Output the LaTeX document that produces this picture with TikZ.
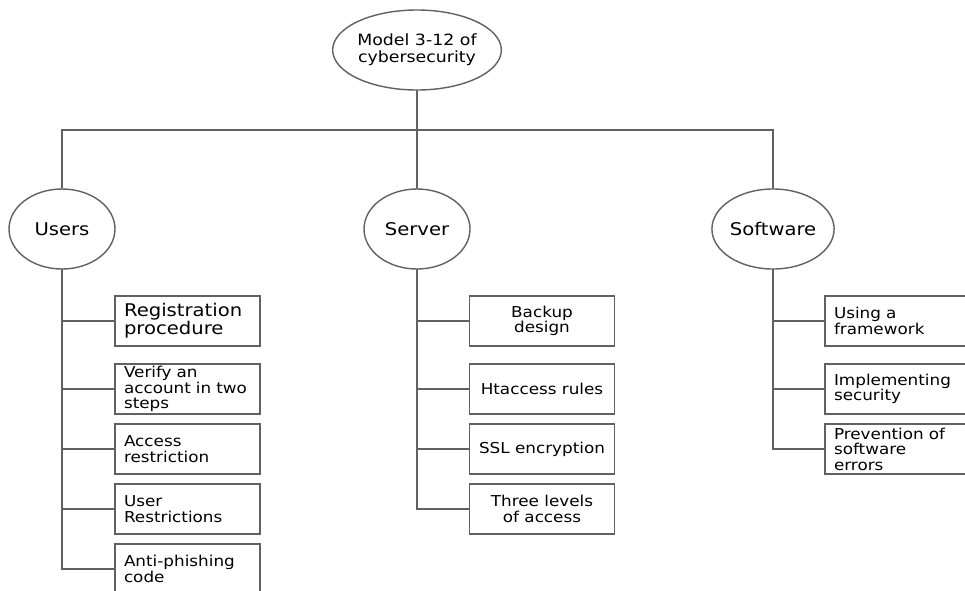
\documentclass[tikz,border=0pt]{standalone}
\usepackage{fontspec}
\setmainfont{DejaVu Sans}
\newfontfamily\widefont[FakeStretch=1.12]{DejaVu Sans}
\usepackage{tikz}
\usetikzlibrary{shapes.geometric}

\begin{document}
\begin{tikzpicture}
		[x=1pt,y=-1pt,line cap=round,
		%Styles
		link/.style={draw=black!62,line width=1.6pt},
		main node/.style={ellipse,draw=black!62,line width=1.4pt,fill=white,inner sep=0pt,minimum width=#1},
		head node/.style={main node=160pt,minimum height=80pt,font=\widefont\fontsize{15.5}{17}\selectfont,align=center},
		part node/.style={main node=106pt,minimum height=80pt,font=\widefont\fontsize{17.5}{19}\selectfont},
		box/.style={rectangle,draw=black!62,line width=1.4pt,fill=white,minimum width=145pt,minimum height=50pt,inner ysep=0pt,font=\widefont\fontsize{15}{15.5}\selectfont},
		item box/.style={box,inner xsep=9pt,text width=127pt,align=left},
		center box/.style={box,inner xsep=2pt,align=center},
		big text/.style={font=\widefont\fontsize{17.5}{18}\selectfont}
		]
		\useasboundingbox (0,0) rectangle (965,590);
		\clip (0,0) rectangle (965,590);
		\fill[white] (0,0) rectangle (965,590);
		
		%The graphic
		\node[head node] (model) at (417,50) {Model 3-12 of\\cybersecurity};
		\coordinate (bar) at (417,130);
		\node[part node] (users) at (62,229) {Users};
		\node[part node] (server) at (417,229) {Server};
		\node[part node] (software) at (773,229) {Software};
		
		\node[item box,big text] (u1) at (187.5,321) {Registration\\procedure};
		\node[item box] (u2) at (187.5,389) {Verify an\\account in two\\steps};
		\node[item box] (u3) at (187.5,449) {Access\\restriction};
		\node[item box] (u4) at (187.5,509) {User\\Restrictions};
		\node[item box] (u5) at (187.5,569) {Anti-phishing\\code};
		
		\node[center box] (s1) at (542,321) {Backup\\design};
		\node[center box] (s2) at (542,389) {Htaccess rules};
		\node[center box] (s3) at (542,449) {SSL encryption};
		\node[center box] (s4) at (542,509) {Three levels\\of access};
		
		\node[item box] (w1) at (897.5,321) {Using a\\framework};
		\node[item box] (w2) at (897.5,389) {Implementing\\security};
		\node[item box] (w3) at (897.5,449) {Prevention of\\software\\errors};
		
		\path[link] (model) -- (server);
		\path[link] (users.north) |- (bar) -| (software.north);
		\foreach \b in {u1,u2,u3,u4,u5}
			\path[link] (users.south) |- (\b.west);
		\foreach \b in {s1,s2,s3,s4}
			\path[link] (server.south) |- (\b.west);
		\foreach \b in {w1,w2,w3}
			\path[link] (software.south) |- (\b.west);
	\end{tikzpicture}
\end{document}
